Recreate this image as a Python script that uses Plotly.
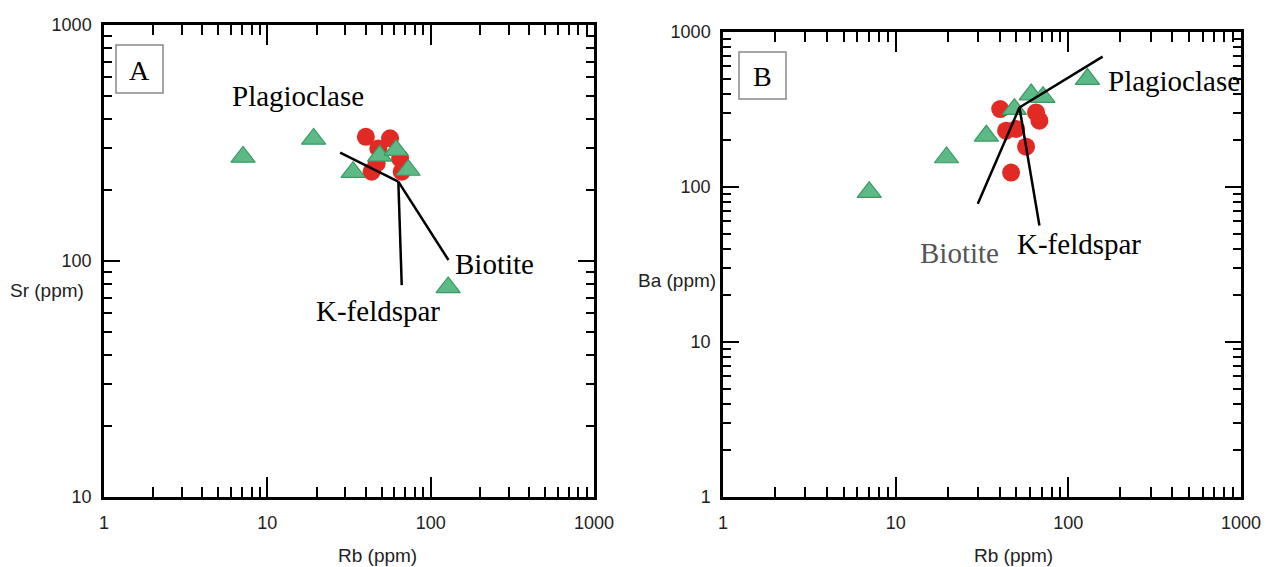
import plotly.graph_objects as go

W, H = 1266, 567

# ---------------- Panel A : Sr vs Rb ----------------
a_tri_rb = [7.1, 19.2, 33.5, 48.7, 61.4, 72.8, 128]
a_tri_sr = [276, 329, 238, 279, 295, 243, 77.3]
a_cir_rb = [40.1, 56.4, 47.8, 43.5, 65.0, 66.5, 46.7]
a_cir_sr = [336, 331, 300, 239, 272, 239, 259]
a_plag_rb = [27.9, 63.4]
a_plag_sr = [288, 217]
a_bio_rb = [63.4, 128.5]
a_bio_sr = [217, 101]
a_kfs_rb = [63.4, 66.5]
a_kfs_sr = [217, 79]

# ---------------- Panel B : Ba vs Rb ----------------
b_tri_rb = [7.03, 19.7, 33.5, 48.7, 60.9, 71.3, 129]
b_tri_ba = [92.6, 155, 214, 318, 395, 380, 497]
b_cir_rb = [40.3, 65.0, 68.0, 43.6, 49.9, 56.9, 46.6]
b_cir_ba = [318, 303, 268, 231, 237, 182, 124]
b_plag_rb = [52.1, 158]
b_plag_ba = [326, 693]
b_bio_rb = [52.1, 29.9]
b_bio_ba = [326, 78]
b_kfs_rb = [52.1, 68.0]
b_kfs_ba = [326, 56.5]

major_vals = [1, 10, 100, 1000]
major_text = ["1", "10", "100", "1000"]
minor_vals = [m * d for d in (1, 10, 100) for m in range(2, 10)]

TRI_FILL = "#5DBA86"
TRI_LINE = "#3B9963"
RED = "#E22A25"
SANS = "Liberation Sans, Arial, sans-serif"
SERIF = "Liberation Serif, Times New Roman, serif"

fig = go.Figure()

def add_panel(xa, ya, tri_x, tri_y, cir_x, cir_y, lines):
    fig.add_trace(go.Scatter(x=cir_x, y=cir_y, mode="markers", xaxis=xa, yaxis=ya,
                             marker=dict(symbol="circle", size=18, color=RED, line=dict(width=0)),
                             showlegend=False, hoverinfo="skip"))
    fig.add_trace(go.Scatter(x=tri_x, y=tri_y, mode="markers", xaxis=xa, yaxis=ya,
                             marker=dict(symbol="triangle-up", size=21, color=TRI_FILL,
                                         line=dict(width=1.2, color=TRI_LINE)),
                             showlegend=False, hoverinfo="skip"))
    for lx, ly in lines:
        fig.add_trace(go.Scatter(x=lx, y=ly, mode="lines", xaxis=xa, yaxis=ya,
                                 line=dict(color="black", width=2.5),
                                 showlegend=False, hoverinfo="skip"))

add_panel("x", "y", a_tri_rb, a_tri_sr, a_cir_rb, a_cir_sr,
          [(a_plag_rb, a_plag_sr), (a_bio_rb, a_bio_sr), (a_kfs_rb, a_kfs_sr)])
add_panel("x2", "y2", b_tri_rb, b_tri_ba, b_cir_rb, b_cir_ba,
          [(b_plag_rb, b_plag_ba), (b_bio_rb, b_bio_ba), (b_kfs_rb, b_kfs_ba)])

def xaxis(domain, anchor):
    return dict(type="log", range=[0, 3], domain=domain, anchor=anchor, automargin=False,
                tickmode="array", tickvals=major_vals, ticktext=major_text,
                ticks="inside", ticklen=20, tickwidth=1.8, tickcolor="black",
                minor=dict(tickmode="array", tickvals=minor_vals, ticks="inside",
                           ticklen=10, tickwidth=1.5, tickcolor="black", showgrid=False),
                showline=True, linecolor="black", linewidth=2.5, mirror="allticks",
                showgrid=False, zeroline=False,
                tickfont=dict(family=SANS, size=18, color="#222"),
                ticklabelstandoff=8)

def yaxis(domain, anchor, rng, vals, text, minors):
    return dict(type="log", range=rng, domain=domain, anchor=anchor, automargin=False,
                tickmode="array", tickvals=vals, ticktext=text,
                ticks="inside", ticklen=16, tickwidth=1.8, tickcolor="black",
                minor=dict(tickmode="array", tickvals=minors, ticks="inside",
                           ticklen=8, tickwidth=1.5, tickcolor="black", showgrid=False),
                showline=True, linecolor="black", linewidth=2.5, mirror="allticks",
                showgrid=False, zeroline=False,
                tickfont=dict(family=SANS, size=18, color="#222"),
                ticklabelstandoff=6)

ydom = [1 - 497 / H, 1 - 25 / H]
ydom2 = [1 - 497 / H, 1 - 32 / H]
xdom = [104 / W, 594 / W]
xdom2 = [723 / W, 1241 / W]

a_minor_y = [m * d for d in (10, 100) for m in range(2, 10)]
b_minor_y = minor_vals

fig.update_layout(
    width=W, height=H, margin=dict(l=0, r=0, t=0, b=0, autoexpand=False),
    paper_bgcolor="white", plot_bgcolor="white",
    xaxis=xaxis(xdom, "y"),
    yaxis=yaxis(ydom, "x", [1, 3], [10, 100, 1000], ["10", "100", "1000"], a_minor_y),
    xaxis2=xaxis(xdom2, "y2"),
    yaxis2=yaxis(ydom2, "x2", [0, 3], major_vals, major_text, b_minor_y),
)

def px_ann(text, x, y, size, family, color="black"):
    fig.add_annotation(text=text, x=x / W, y=1 - y / H, xref="paper", yref="paper",
                       xanchor="center", yanchor="middle", showarrow=False,
                       font=dict(family=family, size=size, color=color))

# mineral vector labels
px_ann("Plagioclase", 298, 96, 29, SERIF)
px_ann("Biotite", 494, 264, 29, SERIF)
px_ann("K-feldspar", 378, 311, 29, SERIF)
px_ann("Plagioclase", 1174, 81, 29, SERIF)
px_ann("Biotite", 959, 253, 29, SERIF, "#555")
px_ann("K-feldspar", 1079, 244, 29, SERIF)

# axis titles
px_ann("Sr (ppm)", 47, 290, 19, SANS, "#222")
px_ann("Rb (ppm)", 377, 555, 19, SANS, "#222")
px_ann("Ba (ppm)", 677, 280, 19, SANS, "#222")
px_ann("Rb (ppm)", 1013, 555, 19, SANS, "#222")

# panel letter boxes
for (x0, y0, x1, y1, letter) in [(116, 45, 163, 93, "A"), (739, 52, 786, 99, "B")]:
    fig.add_shape(type="rect", xref="paper", yref="paper",
                  x0=x0 / W, x1=x1 / W, y0=1 - y1 / H, y1=1 - y0 / H,
                  line=dict(color="#888", width=1.5), fillcolor="white", layer="above")
    px_ann(letter, (x0 + x1) / 2, (y0 + y1) / 2 + 1, 28, SERIF)

fig.write_html("out.html",
               config={"displayModeBar": False},
               post_script="document.body.style.margin='0px';document.body.style.overflow='hidden';")
